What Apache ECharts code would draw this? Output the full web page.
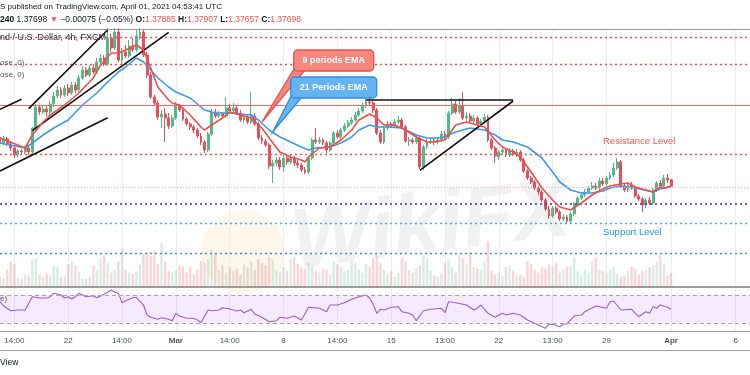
<!DOCTYPE html>
<html><head><meta charset="utf-8">
<script src="https://cdn.jsdelivr.net/npm/echarts@6/dist/echarts.min.js"></script>
<style>html,body{margin:0;padding:0;background:#fff}#c{width:750px;height:375px}</style>
</head><body><div id="c"></div>
<script>
// ---- DATA ----
// candles: [open, close, low, high]  GBP/USD 4h
const candles = [
[1.3917,1.3899,1.3890,1.3929],[1.3899,1.3911,1.3893,1.3920],[1.3911,1.3896,1.3890,1.3917],[1.3896,1.3884,1.3875,1.3905],
[1.3884,1.3863,1.3854,1.3893],[1.3863,1.3875,1.3857,1.3881],[1.3875,1.3872,1.3863,1.3881],[1.3872,1.3884,1.3866,1.3890],
[1.3884,1.3872,1.3863,1.3890],[1.3872,1.3944,1.3866,1.3947],[1.3944,1.4007,1.3938,1.4016],[1.4007,1.3992,1.3983,1.4013],
[1.3992,1.4001,1.3986,1.4010],[1.4001,1.3992,1.3980,1.4010],[1.3992,1.4016,1.3986,1.4025],[1.4016,1.4040,1.4007,1.4052],
[1.4040,1.4058,1.4034,1.4070],[1.4058,1.4043,1.4034,1.4067],[1.4043,1.4064,1.4037,1.4073],[1.4064,1.4049,1.4040,1.4076],
[1.4049,1.4073,1.4043,1.4082],[1.4073,1.4058,1.4049,1.4082],[1.4058,1.4094,1.4052,1.4103],[1.4094,1.4118,1.4088,1.4130],
[1.4118,1.4103,1.4097,1.4127],[1.4103,1.4124,1.4097,1.4133],[1.4124,1.4112,1.4106,1.4136],[1.4112,1.4142,1.4106,1.4154],
[1.4142,1.4154,1.4136,1.4166],[1.4154,1.4136,1.4130,1.4163],[1.4136,1.4214,1.4130,1.4244],[1.4214,1.4184,1.4172,1.4226],
[1.4184,1.4232,1.4178,1.4244],[1.4232,1.4148,1.4142,1.4244],[1.4148,1.4172,1.4136,1.4184],[1.4172,1.4160,1.4154,1.4193],
[1.4160,1.4190,1.4154,1.4208],[1.4190,1.4178,1.4172,1.4214],[1.4178,1.4220,1.4172,1.4238],[1.4220,1.4232,1.4208,1.4244],
[1.4232,1.4163,1.4157,1.4238],[1.4163,1.4103,1.4094,1.4172],[1.4103,1.4037,1.4031,1.4112],[1.4037,1.4019,1.4010,1.4043],
[1.4019,1.3977,1.3968,1.4028],[1.3977,1.3986,1.3944,1.3998],[1.3986,1.3974,1.3902,1.4004],[1.3974,1.3950,1.3941,1.3989],
[1.3950,1.3974,1.3944,1.3983],[1.3974,1.4010,1.3968,1.4022],[1.4010,1.3998,1.3992,1.4016],[1.3998,1.3971,1.3965,1.4004],
[1.3971,1.3956,1.3950,1.3977],[1.3956,1.3947,1.3938,1.3962],[1.3947,1.3938,1.3929,1.3953],[1.3938,1.3920,1.3914,1.3944],
[1.3920,1.3902,1.3893,1.3929],[1.3902,1.3878,1.3869,1.3908],[1.3878,1.3926,1.3872,1.3932],[1.3926,1.3992,1.3920,1.4001],
[1.3992,1.3980,1.3974,1.4001],[1.3980,1.3986,1.3974,1.3995],[1.3986,1.3980,1.3971,1.3992],[1.3980,1.4004,1.3974,1.4037],
[1.4004,1.3995,1.3989,1.4016],[1.3995,1.4004,1.3989,1.4019],[1.4004,1.3989,1.3983,1.4010],[1.3989,1.3968,1.3962,1.3998],
[1.3968,1.3977,1.3959,1.3986],[1.3977,1.3962,1.3956,1.3983],[1.3962,1.3980,1.3956,1.4052],[1.3980,1.3956,1.3950,1.3989],
[1.3956,1.3914,1.3908,1.3962],[1.3914,1.3905,1.3896,1.3923],[1.3905,1.3893,1.3887,1.3911],[1.3893,1.3830,1.3821,1.3899],
[1.3830,1.3839,1.3779,1.3848],[1.3839,1.3848,1.3830,1.3857],[1.3848,1.3827,1.3818,1.3857],[1.3827,1.3854,1.3812,1.3863],
[1.3854,1.3842,1.3833,1.3863],[1.3842,1.3854,1.3836,1.3863],[1.3854,1.3839,1.3830,1.3860],[1.3839,1.3833,1.3824,1.3848],
[1.3833,1.3818,1.3812,1.3839],[1.3818,1.3812,1.3806,1.3827],[1.3812,1.3854,1.3806,1.3860],[1.3854,1.3908,1.3848,1.3914],
[1.3908,1.3902,1.3896,1.3944],[1.3902,1.3908,1.3896,1.3917],[1.3908,1.3899,1.3893,1.3914],[1.3899,1.3878,1.3869,1.3905],
[1.3878,1.3899,1.3872,1.3905],[1.3899,1.3929,1.3893,1.3935],[1.3929,1.3917,1.3911,1.3938],[1.3917,1.3938,1.3911,1.3944],
[1.3938,1.3950,1.3932,1.3959],[1.3950,1.3959,1.3944,1.3968],[1.3959,1.3968,1.3953,1.3977],[1.3968,1.3983,1.3962,1.3992],
[1.3983,1.3995,1.3977,1.4004],[1.3995,1.4010,1.3989,1.4019],[1.4010,1.4022,1.4004,1.4031],[1.4022,1.4019,1.4013,1.4034],
[1.4019,1.3998,1.3989,1.4028],[1.3998,1.3929,1.3923,1.4004],[1.3929,1.3902,1.3896,1.3938],[1.3902,1.3944,1.3896,1.3950],
[1.3944,1.3956,1.3938,1.3965],[1.3956,1.3950,1.3944,1.3962],[1.3950,1.3962,1.3944,1.3971],[1.3962,1.3968,1.3956,1.3980],
[1.3968,1.3947,1.3941,1.3974],[1.3947,1.3905,1.3899,1.3953],[1.3905,1.3908,1.3890,1.3917],[1.3908,1.3902,1.3896,1.3914],
[1.3902,1.3914,1.3896,1.3923],[1.3914,1.3827,1.3821,1.3920],[1.3827,1.3887,1.3818,1.3893],[1.3887,1.3902,1.3881,1.3911],
[1.3902,1.3905,1.3896,1.3914],[1.3905,1.3902,1.3893,1.3914],[1.3902,1.3908,1.3896,1.3917],[1.3908,1.3926,1.3902,1.3935],
[1.3926,1.3917,1.3908,1.3935],[1.3917,1.3989,1.3911,1.3995],[1.3989,1.4016,1.3983,1.4034],[1.4016,1.3992,1.3986,1.4025],
[1.3992,1.4010,1.3986,1.4034],[1.4010,1.3974,1.3968,1.4052],[1.3974,1.3980,1.3965,1.3992],[1.3980,1.3965,1.3959,1.3989],
[1.3965,1.3974,1.3956,1.3983],[1.3974,1.3956,1.3950,1.3980],[1.3956,1.3965,1.3947,1.3971],[1.3965,1.3977,1.3959,1.3986],
[1.3977,1.3908,1.3902,1.3983],[1.3908,1.3884,1.3878,1.3914],[1.3884,1.3860,1.3839,1.3890],[1.3857,1.3872,1.3848,1.3878],
[1.3872,1.3878,1.3863,1.3887],[1.3878,1.3863,1.3857,1.3884],[1.3863,1.3875,1.3857,1.3884],[1.3875,1.3866,1.3860,1.3881],
[1.3866,1.3872,1.3857,1.3881],[1.3872,1.3848,1.3842,1.3878],[1.3848,1.3815,1.3809,1.3854],[1.3815,1.3794,1.3788,1.3821],
[1.3794,1.3782,1.3776,1.3800],[1.3782,1.3764,1.3758,1.3788],[1.3764,1.3752,1.3743,1.3770],[1.3752,1.3728,1.3722,1.3758],
[1.3728,1.3701,1.3695,1.3734],[1.3701,1.3680,1.3671,1.3710],[1.3680,1.3704,1.3674,1.3710],[1.3704,1.3692,1.3686,1.3710],
[1.3692,1.3671,1.3665,1.3698],[1.3671,1.3677,1.3665,1.3686],[1.3677,1.3665,1.3659,1.3683],[1.3665,1.3686,1.3659,1.3692],
[1.3686,1.3716,1.3680,1.3722],[1.3716,1.3734,1.3710,1.3740],[1.3734,1.3743,1.3728,1.3752],[1.3743,1.3752,1.3737,1.3761],
[1.3752,1.3764,1.3746,1.3770],[1.3764,1.3770,1.3758,1.3782],[1.3770,1.3764,1.3758,1.3779],[1.3764,1.3785,1.3758,1.3794],
[1.3785,1.3776,1.3770,1.3794],[1.3776,1.3794,1.3770,1.3800],[1.3794,1.3803,1.3788,1.3812],[1.3803,1.3824,1.3797,1.3839],
[1.3824,1.3842,1.3818,1.3854],[1.3842,1.3770,1.3764,1.3848],[1.3770,1.3758,1.3752,1.3776],[1.3758,1.3773,1.3752,1.3779],
[1.3773,1.3764,1.3758,1.3782],[1.3764,1.3740,1.3734,1.3770],[1.3740,1.3731,1.3725,1.3746],[1.3731,1.3713,1.3692,1.3737],
[1.3713,1.3728,1.3704,1.3734],[1.3728,1.3719,1.3713,1.3737],[1.3719,1.3758,1.3713,1.3764],[1.3758,1.3779,1.3752,1.3785],
[1.3779,1.3770,1.3764,1.3788],[1.3770,1.3794,1.3764,1.3803],[1.3794,1.3788,1.3779,1.3806],[1.37885,1.37698,1.37657,1.37907]
];
const futureSlots = 22;

// EMA readings [candle index, value]
const ema9 = [[0,1.3914],[7,1.3884],[9,1.3923],[12,1.3962],[14,1.3983],[18,1.4013],[22,1.4049],[26,1.4094],[28,1.4133],
[31,1.4169],[33,1.4169],[35,1.4178],[38,1.4193],[40,1.4178],[42,1.4124],[44,1.4067],[47,1.4028],[48,1.4019],[50,1.4013],
[53,1.3983],[56,1.3947],[57,1.3938],[59,1.3953],[62,1.3974],[64,1.3992],[67,1.3983],[70,1.3974],[73,1.3944],[75,1.3914],
[78,1.3872],[81,1.3857],[84,1.3848],[85,1.3842],[86,1.3857],[89,1.3884],[92,1.3887],[95,1.3908],[98,1.3938],[100,1.3968],
[103,1.3986],[105,1.3974],[107,1.3953],[110,1.3953],[113,1.3938],[116,1.3917],[119,1.3902],[121,1.3902],[124,1.3908],
[127,1.3953],[130,1.3962],[133,1.3953],[135,1.3947],[138,1.3908],[140,1.3887],[143,1.3872],[145,1.3857],[148,1.3812],
[151,1.3764],[154,1.3728],[156,1.3707],[159,1.3698],[162,1.3719],[165,1.3743],[168,1.3761],[170,1.3770],[173,1.3776],
[175,1.3779],[177,1.3767],[180,1.3758],[182,1.3752],[184,1.3767],[185,1.3764],[187,1.3770]];
const ema21 = [[0,1.3899],[7,1.3884],[9,1.3899],[12,1.3923],[15,1.3944],[19,1.3968],[23,1.4013],[27,1.4049],[30,1.4082],
[33,1.4112],[35,1.4127],[38,1.4154],[40,1.4142],[44,1.4094],[47,1.4067],[49,1.4052],[53,1.4034],[57,1.3998],[60,1.3989],
[64,1.3989],[70,1.3983],[72,1.3968],[75,1.3938],[78,1.3917],[81,1.3902],[84,1.3887],[86,1.3878],[88,1.3884],[92,1.3887],
[95,1.3899],[98,1.3917],[100,1.3938],[103,1.3953],[105,1.3947],[108,1.3947],[112,1.3944],[116,1.3923],[119,1.3914],
[123,1.3914],[127,1.3932],[131,1.3944],[135,1.3938],[138,1.3923],[140,1.3908],[143,1.3902],[147,1.3887],[151,1.3854],
[154,1.3812],[156,1.3782],[159,1.3758],[162,1.3749],[165,1.3749],[168,1.3755],[170,1.3764],[173,1.3770],[177,1.3764],
[182,1.3752],[184,1.3761],[187,1.3767]];

// RSI(14) readings [candle index, value]
const rsi = [[0,60.6],[1,54.4],[3,47.5],[5,48.5],[7,48.5],[9,67.9],[11,66],[13,66],[14,67.9],[15,72.8],[17,70.4],[18,66],
[19,67.9],[20,64.5],[21,67.9],[22,72.8],[24,67.9],[26,69.3],[27,66.4],[29,71.4],[31,77.6],[32,74.3],[33,72.8],[34,59.2],
[35,62.1],[36,64.1],[37,66.4],[38,67],[40,55.8],[41,41.3],[42,37.9],[44,35],[45,37.3],[47,35],[48,33],[49,43.7],[50,39.8],
[52,36.5],[54,36.5],[55,34],[56,30],[58,48.5],[59,47.5],[61,48.5],[62,51.9],[64,50],[66,47.1],[67,48.5],[68,44.6],[70,49.6],
[71,42.7],[73,37.9],[75,31.5],[77,33],[78,37.9],[80,36.5],[82,39.8],[84,34],[86,52.5],[89,51],[91,46.1],[92,55.8],[94,55.8],
[96,59.2],[98,64.1],[100,67.9],[102,70.4],[103,66],[104,57],[105,43.7],[106,49.6],[107,48.5],[109,52.5],[111,53.3],[112,46.1],
[114,43.7],[115,41.3],[116,33],[118,47.5],[120,49.6],[123,51],[124,44.6],[125,60.6],[127,59.2],[130,55.8],[132,48.5],[133,51],
[134,55.8],[136,43.7],[138,37.9],[140,43.7],[141,41.3],[143,43.7],[145,41.3],[147,34],[150,26.7],[152,21.9],[153,28.2],
[154,27.7],[156,24.3],[157,28.2],[158,28.2],[160,39.8],[162,41.3],[163,46.1],[166,54.4],[169,51],[170,60.6],[171,61.6],
[173,48.5],[176,49.6],[178,38.8],[180,46.1],[181,43.7],[182,53.3],[183,51],[184,55.8],[186,52.5],[187,49.6]];

// volume (relative units), one per candle
const volume = [18,15,30,44,40,16,14,22,20,48, 50,22,18,24,20,38,36,18,20,40, 45,38,26,15,14,18,38,30,50,55,
42,25,30,45,68,30,25,22,28,40, 58,62,55,65,40,78,45,28,25,30, 38,36,25,35,22,30,45,42,48,66,
60,30,38,25,35,28,32,22,40,35, 45,30,48,42,38,52,48,30,25,35, 28,50,52,40,35,32,42,38,28,25,
32,30,22,45,40,35,28,30,45,42, 30,25,40,35,50,56,42,30,22,28, 18,25,52,45,30,25,32,38,55,50,
28,20,18,25,42,48,35,25,55,50, 40,60,35,32,30,45,80,28,22,25, 20,35,38,28,20,22,18,45,40,30,
25,35,32,40,35,42,25,30,35,38, 52,28,22,30,25,45,52,30,28,25, 30,35,22,18,20,28,35,32,22,28,
30,35,38,45,55,40,20,25];

// time-axis tick labels [slot index, text]
const tickLabels = [[4,'14:00'],[19,'22'],[34,'14:00'],[49,'Mar'],[64,'14:00'],[79,'8'],[94,'14:00'],
[109,'15'],[124,'13:00'],[139,'22'],[154,'13:00'],[169,'29'],[187,'Apr'],[205,'6']];
const boldLabels = ['Mar','Apr'];

// horizontal levels (price)
const redDottedLevels = [1.4217, 1.4136, 1.3866];
const redSolidLevel = 1.4013;
const lastPriceLevel = 1.3766;
const navyLevel = 1.3716;
const lightBlueLevel = 1.3658;
const blueLevel = 1.3568;

// trend lines [[index, price],[index, price]]
const trendLines = [
  [[8,1.4002],[30,1.4238]],
  [[9,1.3936],[47,1.4231]],
  [[0,1.3815],[30,1.3975]],
  [[0,1.4000],[6,1.4030]],
  [[102,1.4028],[143,1.4028]],
  [[117,1.3817],[143,1.4025]]
];

// callouts: [tip index, tip price, box index, box price]
const calloutPoints = [[73,1.3962,93,1.41465],[76,1.3932,93,1.40655]];
const calloutTexts = ['9 periods EMA','21 Periods EMA'];

const priceRange = [1.3467, 1.4241];
const rsiRange = [18, 82];
const rsiBands = [30, 70];

// ---- CHART ----
const FONT = 'Liberation Sans, Arial, sans-serif';
const UP = '#53b987', DOWN = '#eb4d5c';
const N = candles.length + futureSlots;
const categories = Array.from({length: N}, (_, i) => String(i));
const labelMap = {};
tickLabels.forEach(t => labelMap[t[0]] = t[1]);
const showTick = (i) => labelMap[i] !== undefined;

const volData = volume.map((v, i) => ({
  value: v,
  itemStyle: {color: candles[i][1] >= candles[i][0] ? 'rgba(83,185,135,0.24)' : 'rgba(235,77,92,0.24)'}
}));

const calloutStyle = [
  {w: 80, h: 21, fill: '#f5877f', stroke: '#e8504a'},
  {w: 86, h: 21, fill: '#66b3f2', stroke: '#2b8fe0'}
];

const levelLines = [];
redDottedLevels.forEach(v => levelLines.push({yAxis: v, lineStyle: {color: '#ef5350', type: [2, 3], width: 1.4}}));
levelLines.push({yAxis: redSolidLevel, lineStyle: {color: '#f06a66', type: 'solid', width: 1}});
levelLines.push({yAxis: lastPriceLevel, lineStyle: {color: '#f7a9ae', type: [1, 2], width: 1}});
levelLines.push({yAxis: navyLevel, lineStyle: {color: '#2d2db8', type: [2, 3], width: 1.5}});
levelLines.push({yAxis: lightBlueLevel, lineStyle: {color: '#4aa8ee', type: [2, 3], width: 1.4}});
levelLines.push({yAxis: blueLevel, lineStyle: {color: '#3d8fd6', type: [2, 3], width: 1.4}});
trendLines.forEach(t => levelLines.push([
  {coord: t[0], lineStyle: {color: '#111', type: 'solid', width: 1.6}},
  {coord: t[1]}
]));

const chart = echarts.init(document.getElementById('c'), null, {renderer: 'canvas'});
chart.setOption({
  animation: false,
  backgroundColor: '#ffffff',
  grid: [
    {left: 0, right: 0, top: 29, height: 258, outerBoundsMode: 'none'},
    {left: 0, right: 0, top: 230, height: 57, outerBoundsMode: 'none'},
    {left: 0, right: 0, top: 287, height: 44, outerBoundsMode: 'none'}
  ],
  xAxis: [
    {type: 'category', gridIndex: 0, data: categories, boundaryGap: false, position: 'top',
     axisLine: {show: true, lineStyle: {color: '#9a9a9a', width: 1}},
     axisTick: {show: false}, axisLabel: {show: false},
     splitLine: {show: true, interval: showTick, lineStyle: {color: '#eceef2', width: 1}}},
    {type: 'category', gridIndex: 1, data: categories, boundaryGap: false,
     axisLine: {show: true, lineStyle: {color: '#9e9e9e', width: 2}},
     axisTick: {show: false}, axisLabel: {show: false}, splitLine: {show: false}},
    {type: 'category', gridIndex: 2, data: categories, boundaryGap: false,
     axisLine: {show: true, lineStyle: {color: '#a0a0a0', width: 1}},
     axisTick: {show: false},
     splitLine: {show: true, interval: showTick, lineStyle: {color: '#eceef2', width: 1}},
     axisLabel: {show: true, interval: showTick, margin: 6, color: '#50535e', fontSize: 8, fontFamily: FONT,
       formatter: (v, i) => boldLabels.includes(labelMap[i]) ? '{b|' + labelMap[i] + '}' : (labelMap[i] || ''),
       rich: {b: {fontWeight: 'bold', fontSize: 8, fontFamily: FONT, color: '#50535e'}}}}
  ],
  yAxis: [
    {type: 'value', gridIndex: 0, min: priceRange[0], max: priceRange[1], show: false, splitLine: {show: false}},
    {type: 'value', gridIndex: 1, min: 0, max: 100, show: false, splitLine: {show: false}},
    {type: 'value', gridIndex: 2, min: rsiRange[0], max: rsiRange[1], show: false, splitLine: {show: false}}
  ],
  series: [
    {type: 'bar', name: 'Volume', xAxisIndex: 1, yAxisIndex: 1, data: volData, barWidth: 2.4, silent: true, z: 1},
    {type: 'candlestick', name: 'GBPUSD', xAxisIndex: 0, yAxisIndex: 0, data: candles, barWidth: 2.4, z: 3,
     itemStyle: {color: UP, color0: DOWN, borderColor: UP, borderColor0: DOWN, borderWidth: 1},
     markLine: {silent: true, precision: 6, symbol: ['none', 'none'], label: {show: false}, animation: false, data: levelLines}},
    {type: 'line', name: 'EMA 21', xAxisIndex: 0, yAxisIndex: 0, data: ema21, showSymbol: false, z: 4,
     lineStyle: {color: '#3d9be9', width: 1.6}},
    {type: 'line', name: 'EMA 9', xAxisIndex: 0, yAxisIndex: 0, data: ema9, showSymbol: false, z: 5,
     lineStyle: {color: '#ef4e4a', width: 1.6}},
    {type: 'line', name: 'RSI', xAxisIndex: 2, yAxisIndex: 2, data: rsi, showSymbol: false, z: 4,
     lineStyle: {color: '#a05bd0', width: 1.1},
     markArea: {silent: true, itemStyle: {color: 'rgba(153,21,255,0.09)'}, data: [[{yAxis: rsiBands[0]}, {yAxis: rsiBands[1]}]]},
     markLine: {silent: true, precision: 6, symbol: ['none', 'none'], label: {show: false},
       lineStyle: {color: '#a3a6af', type: [4, 3], width: 1},
       data: [{yAxis: rsiBands[0]}, {yAxis: rsiBands[1]}]}},
    {type: 'custom', name: 'Callouts', xAxisIndex: 0, yAxisIndex: 0, data: calloutPoints, z: 10, clip: false,
     encode: {x: [0, 2], y: [1, 3]},
     renderItem: (params, api) => {
       const tip = api.coord([api.value(0), api.value(1)]);
       const c = api.coord([api.value(2), api.value(3)]);
       const s = calloutStyle[params.dataIndex];
       const left = c[0] - s.w / 2, top = c[1] - s.h / 2, bottom = top + s.h;
       return {type: 'group', children: [
         {type: 'polygon', shape: {points: [tip, [left + 1, bottom - 3], [left + 13, bottom - 3]]},
          style: {fill: s.fill, stroke: s.stroke, lineWidth: 1.3}},
         {type: 'rect', shape: {x: left, y: top, width: s.w, height: s.h, r: 4},
          style: {fill: s.fill, stroke: s.stroke, lineWidth: 1.3}},
         {type: 'text', style: {x: c[0], y: c[1] + 0.5, text: calloutTexts[params.dataIndex], fill: '#ffffff',
          font: 'bold 9px ' + FONT, align: 'center', verticalAlign: 'middle'}}
       ]};
     }}
  ],
  graphic: [
    {type: 'circle', shape: {cx: 243, cy: 252, r: 42}, style: {fill: 'rgba(245,190,70,0.10)'}, z: 0, silent: true},
    {type: 'text', x: 292, y: 245, rotation: 0.12, z: 0, silent: true,
     style: {text: 'WikiFX', fill: 'rgba(150,150,150,0.13)', font: 'bold italic 84px ' + FONT, verticalAlign: 'middle'}},
    {type: 'text', x: 0, y: 7, z: 20, style: {text: 'S published on TradingView.com, April 01, 2021 04:53:41 UTC',
      fill: '#131722', font: '8px ' + FONT, verticalAlign: 'middle'}},
    {type: 'text', x: 0, y: 20, z: 20, style: {
      text: '{b|240} 1.37698 {r|▼} −0.00075 (−0.05%) {b|O:}{r|1.37885} {b|H:}{r|1.37907} {b|L:}{r|1.37657} {b|C:}{r|1.37698}',
      fill: '#131722', font: '8.5px ' + FONT, verticalAlign: 'middle',
      rich: {b: {fontWeight: 'bold', fontSize: 8.5, fontFamily: FONT, fill: '#131722'},
             r: {fontSize: 8.5, fontFamily: FONT, fill: '#ef5350'}}}},
    {type: 'text', x: 0, y: 38, z: 20, style: {text: 'nd / U.S. Dollar, 4h, FXCM', fill: '#2a2e39', font: '9px ' + FONT, verticalAlign: 'middle'}},
    {type: 'text', x: 0, y: 63, z: 20, style: {text: 'ose, 0)', fill: '#555a66', font: '8px ' + FONT, verticalAlign: 'middle'}},
    {type: 'text', x: 0, y: 75, z: 20, style: {text: 'ose, 0)', fill: '#555a66', font: '8px ' + FONT, verticalAlign: 'middle'}},
    {type: 'text', x: 0, y: 299, z: 20, style: {text: 'e)', fill: '#555a66', font: '8px ' + FONT, verticalAlign: 'middle'}},
    {type: 'text', x: 603, y: 141, z: 20, style: {text: 'Resistance Level', fill: '#ef5350', font: '9.5px ' + FONT, verticalAlign: 'middle'}},
    {type: 'text', x: 603, y: 232, z: 20, style: {text: 'Support Level', fill: '#2196f3', font: '9.5px ' + FONT, verticalAlign: 'middle'}},
    {type: 'line', shape: {x1: 0, y1: 350.5, x2: 750, y2: 350.5}, style: {stroke: '#a0a0a0', lineWidth: 1}, z: 20},
    {type: 'text', x: 0, y: 363, z: 20, style: {text: 'View', fill: '#131722', font: '8.5px ' + FONT, verticalAlign: 'middle'}}
  ]
});
</script>
</body></html>
